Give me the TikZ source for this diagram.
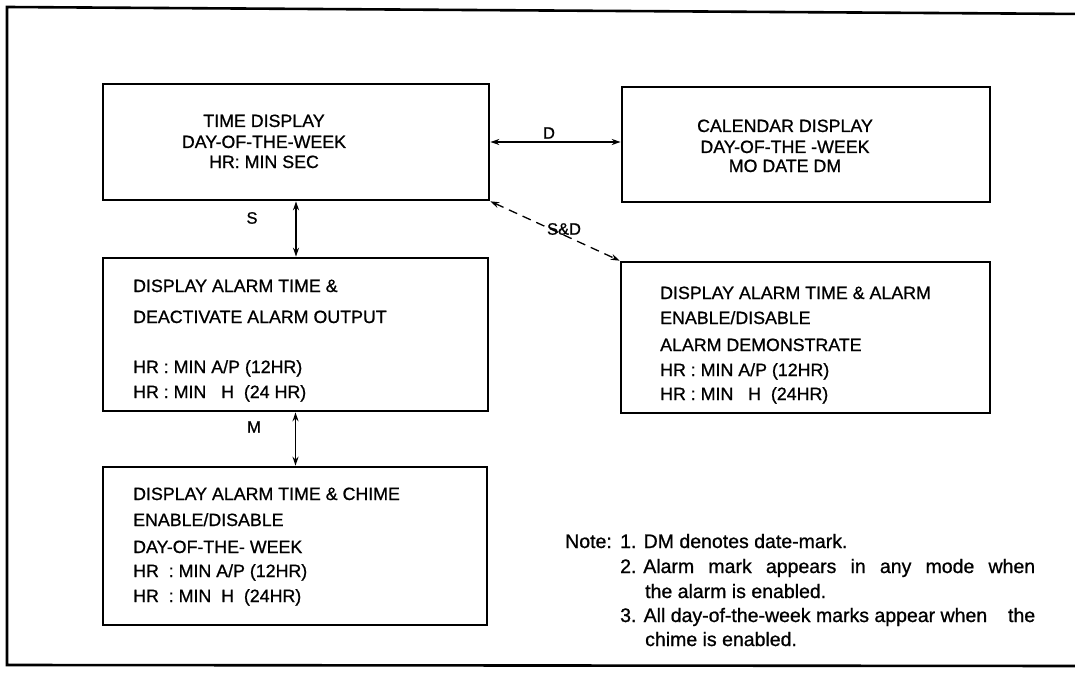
\documentclass[tikz,border=0pt]{standalone}
\usepackage{fontspec}
\setmainfont{Liberation Sans}[FakeBold=0.9]
\usetikzlibrary{arrows.meta}
\begin{document}
\begin{tikzpicture}[x=1pt,y=-1pt,
  box/.style={draw, line width=2.6pt, rectangle, inner sep=0pt},
  txt/.style={inner sep=0pt, font=\fontsize{17.8}{20}\selectfont},
  lft/.style={txt, anchor=base west},
  ctr/.style={txt, anchor=base},
  notetxt/.style={inner sep=0pt, anchor=base west, font=\fontsize{19.5}{22}\selectfont},
  lbl/.style={inner sep=0pt, font=\fontsize{16.5}{18}\selectfont},
  conn/.style={line width=1.3pt, {Stealth[length=9pt,width=6pt]}-{Stealth[length=9pt,width=6pt]}},
  frame/.style={line width=2.6pt}
]
\useasboundingbox (0,0) rectangle (1075,679);

% outer frame
\coordinate (ftr) at (1085,14);
\coordinate (ftl) at (7,7);
\coordinate (fbl) at (7,665);
\coordinate (fbr) at (1085,666);
\draw[frame] (ftr) -- (ftl) -- (fbl) -- (fbr);

% boxes
\node[box, minimum width=386pt, minimum height=116pt] (time) at (296,142) {};
\node[box, minimum width=368pt, minimum height=115pt] (cal) at (806,144.5) {};
\node[box, minimum width=385pt, minimum height=153pt] (deact) at (295.5,334.5) {};
\node[box, minimum width=369pt, minimum height=151pt] (alarm) at (805.5,337.5) {};
\node[box, minimum width=384pt, minimum height=158pt] (chime) at (295,546) {};

% time display text
\node[ctr] (t1) at (264,127) {TIME DISPLAY};
\node[ctr] (t2) at (264,148) {DAY-OF-THE-WEEK};
\node[ctr] (t3) at (264,168) {HR: MIN SEC};

% calendar text
\node[ctr] (c1) at (785,132) {CALENDAR DISPLAY};
\node[ctr] (c2) at (785,153) {DAY-OF-THE -WEEK};
\node[ctr] (c3) at (785,172) {MO DATE DM};

% deactivate text
\node[lft] (d1) at (133,292) {DISPLAY ALARM TIME \&};
\node[lft] (d2) at (133,323) {DEACTIVATE ALARM OUTPUT};
\node[lft] (d3) at (133,373) {HR : MIN A/P (12HR)};
\node[lft] (d4) at (133,398) {HR : MIN \ \ H \ (24 HR)};

% alarm text
\node[lft] (a1) at (660,299) {DISPLAY ALARM TIME \& ALARM};
\node[lft] (a2) at (660,324) {ENABLE/DISABLE};
\node[lft] (a3) at (660,351) {ALARM DEMONSTRATE};
\node[lft] (a4) at (660,376) {HR : MIN A/P (12HR)};
\node[lft] (a5) at (660,400) {HR : MIN \ \ H \ (24HR)};

% chime text
\node[lft] (h1) at (133,500) {DISPLAY ALARM TIME \& CHIME};
\node[lft] (h2) at (133,526) {ENABLE/DISABLE};
\node[lft] (h3) at (133,553) {DAY-OF-THE- WEEK};
\node[lft] (h4) at (133,577) {HR \ : MIN A/P (12HR)};
\node[lft] (h5) at (133,602) {HR \ : MIN \ H \ (24HR)};

% notes
\node[notetxt] (n0) at (565,548) {Note:};
\node[notetxt] (n1) at (620,548) {1. DM denotes date-mark.};
\node[notetxt] (n2) at (620,573) {\makebox[415pt][s]{2.\hspace{0.35em}Alarm mark appears in any mode when}};
\node[notetxt] (n2b) at (645,598) {the alarm is enabled.};
\node[notetxt] (n3) at (620,622) {\makebox[415pt]{3. All day-of-the-week marks appear when\hfill the}};
\node[notetxt] (n3b) at (645,646) {chime is enabled.};

% connectors
\draw[conn] (time.east) -- (time.east -| cal.west);
\node[lbl] (lD) at (549,133) {D};
\draw[conn] (time.south) -- (time.south |- deact.north);
\node[lbl] (lS) at (252,218) {S};
\draw[conn] (deact.south) -- (deact.south |- chime.north);
\node[lbl] (lM) at (254,427) {M};
\draw[conn, dashed, dash pattern=on 9pt off 6pt] (time.south east) -- (alarm.north west);
\node[lbl] (lSD) at (564,229) {S\&D};
\end{tikzpicture}
\end{document}
